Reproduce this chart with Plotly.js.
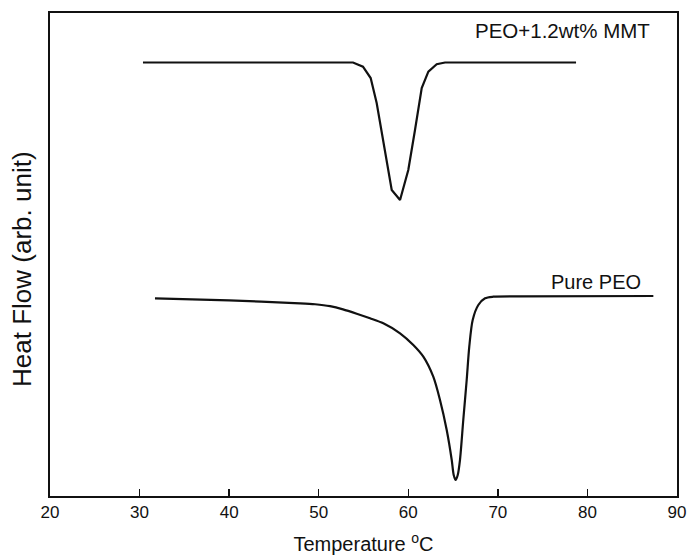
<!DOCTYPE html>
<html>
<head>
<meta charset="utf-8">
<script src="https://cdn.plot.ly/plotly-3.0.1.min.js"></script>
<style>html,body{margin:0;padding:0;background:#fff;}#chart{width:690px;height:558px;}</style>
</head>
<body>
<div id="chart"></div>
<script>
// PEO + 1.2 wt% MMT curve (temperature in °C, heat flow in arbitrary units)
const mmtTemp = [30.38, 53.83, 54.94, 55.80, 56.47, 57.18, 58.15, 59.08, 60.00, 60.75, 61.50, 62.24, 63.17, 64.10, 78.73];
const mmtFlow = [89.75, 89.75, 88.88, 86.54, 81.37, 73.71, 63.35, 61.28, 67.49, 75.78, 84.47, 87.85, 89.38, 89.75, 89.75];

// Pure PEO curve
const peoTemp = [31.72, 40.00, 47.91, 49.59, 51.26, 52.71, 54.24, 55.73, 57.21, 59.08, 60.56, 61.68, 62.79, 63.54, 64.29, 64.85, 65.07, 65.29, 65.52, 65.77, 66.14, 66.52, 66.81, 67.19, 67.82, 68.57, 69.49, 72.47, 87.36];
const peoFlow = [40.93, 40.50, 39.90, 39.70, 39.30, 38.65, 37.75, 36.80, 35.76, 33.69, 31.26, 28.84, 24.70, 19.88, 13.66, 7.45, 4.35, 3.31, 4.35, 7.45, 15.73, 24.02, 30.91, 36.44, 39.54, 40.93, 41.26, 41.35, 41.41];

const xTicks = [20, 30, 40, 50, 60, 70, 80, 90];
const labels = ["PEO+1.2wt% MMT", "Pure PEO"];
const yTitle = "Heat Flow (arb. unit)";

const font = "Liberation Sans, Arial, sans-serif";

const traces = [
  {x: mmtTemp, y: mmtFlow, mode: "lines", line: {color: "#111", width: 2.2}, hoverinfo: "skip"},
  {x: peoTemp, y: peoFlow, mode: "lines", line: {color: "#111", width: 2.2, shape: "spline", smoothing: 0.8}, hoverinfo: "skip"}
];

const layout = {
  width: 690, height: 558,
  margin: {l: 50, r: 13, t: 13, b: 62},
  paper_bgcolor: "#fff", plot_bgcolor: "#fff",
  showlegend: false,
  font: {family: font, color: "#111"},
  xaxis: {
    range: [20, 90], tickvals: xTicks, ticktext: xTicks.map(String),
    ticks: "inside", ticklen: 7, tickwidth: 1.5, tickcolor: "#111",
    ticklabelstandoff: -1,
    showline: true, linecolor: "#111", linewidth: 2.2, mirror: true,
    showgrid: false, zeroline: false,
    tickfont: {size: 17, family: font, color: "#111"},
    title: {text: "Temperature <sup>o</sup>C", font: {size: 20, family: font, color: "#111"}, standoff: 17},
    automargin: false
  },
  yaxis: {
    range: [0, 100], showticklabels: false, ticks: "",
    showline: true, linecolor: "#111", linewidth: 2.2, mirror: true,
    showgrid: false, zeroline: false,
    automargin: false
  },
  annotations: [
    {x: 87.2, y: 96.3, xref: "x", yref: "y", text: labels[0], showarrow: false, xanchor: "right", yanchor: "middle", font: {size: 20.5, family: font, color: "#111"}},
    {x: 86.2, y: 44.3, xref: "x", yref: "y", text: labels[1], showarrow: false, xanchor: "right", yanchor: "middle", font: {size: 20, family: font, color: "#111"}},
    {x: 0, y: 0.47, xref: "paper", yref: "paper", xshift: -28, xanchor: "center", yanchor: "middle", text: yTitle, textangle: -90, showarrow: false, font: {size: 26, family: font, color: "#111"}}
  ]
};

Plotly.newPlot("chart", traces, layout, {displayModeBar: false, staticPlot: true});
</script>
</body>
</html>
